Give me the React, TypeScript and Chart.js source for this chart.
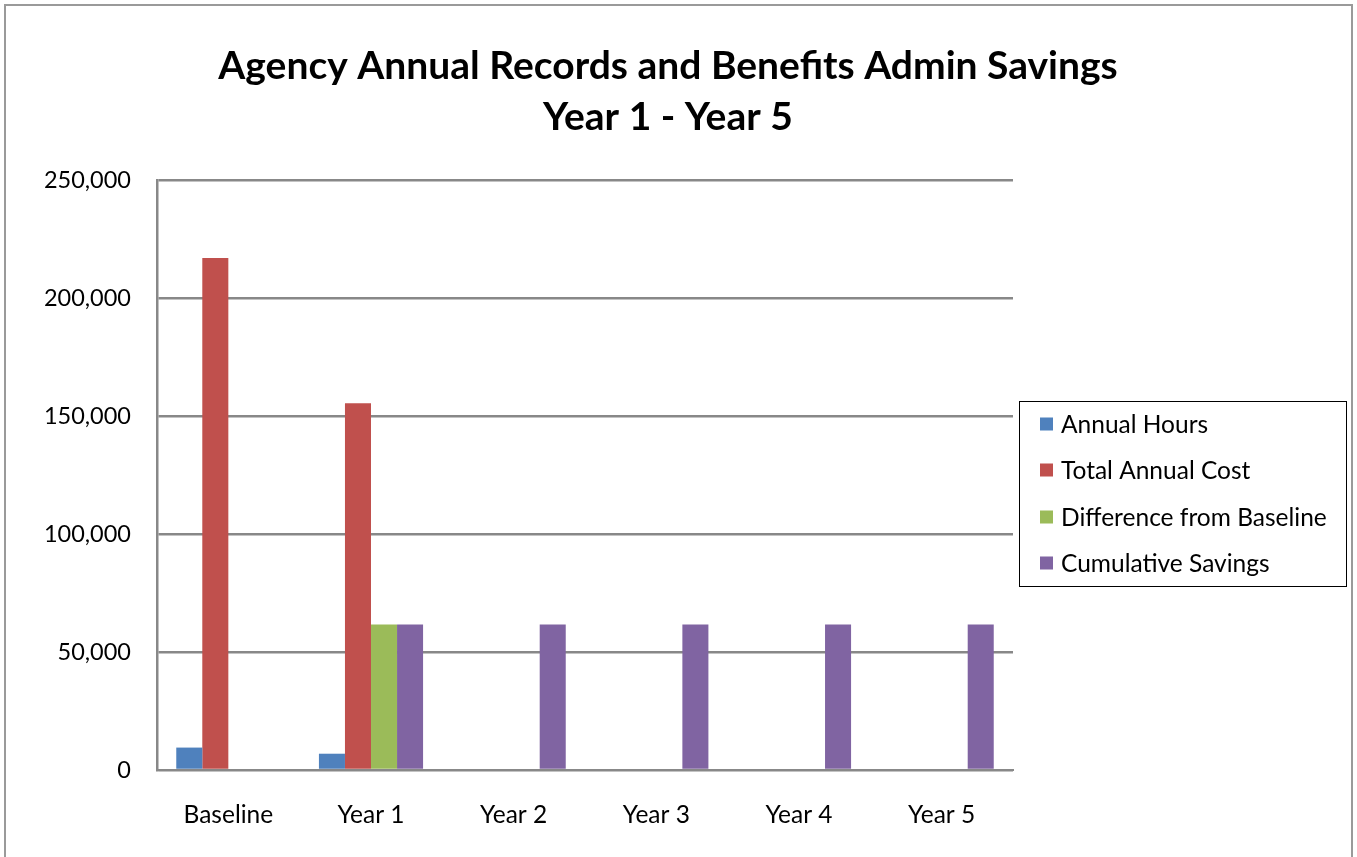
import React, { useEffect, useRef } from "react";
import { Chart, registerables } from "chart.js";

Chart.register(...registerables);

const categories = ["Baseline", "Year 1", "Year 2", "Year 3", "Year 4", "Year 5"];
const annualHours = [9500, 6900, 0, 0, 0, 0];
const totalAnnualCost = [217000, 155400, 0, 0, 0, 0];
const differenceFromBaseline = [0, 61600, 0, 0, 0, 0];
const cumulativeSavings = [0, 61600, 61600, 61600, 61600, 61600];
const seriesNames = ["Annual Hours", "Total Annual Cost", "Difference from Baseline", "Cumulative Savings"];
const seriesColors = ["#4F81BD", "#C0504D", "#9BBB59", "#8064A2"];
const titleLines = ["Agency Annual Records and Benefits Admin Savings", "Year 1 - Year 5"];

const W = 1357;
const H = 857;

const decorPlugin = {
  id: "decor",
  afterDraw(chart: any) {
    const ctx = chart.ctx as CanvasRenderingContext2D;
    ctx.save();
    // outer border
    ctx.strokeStyle = "#9a9a9a";
    ctx.lineWidth = 2;
    ctx.strokeRect(5, 5, 1347, 900);
    // title
    ctx.fillStyle = "#000";
    ctx.font = "bold 39px Lato";
    ctx.textAlign = "center";
    ctx.textBaseline = "alphabetic";
    ctx.fillText(titleLines[0], 668, 79);
    ctx.fillText(titleLines[1], 668, 130);
    // legend
    const lx = 1019.5, ly = 401.5, lw = 327, lh = 185;
    ctx.strokeStyle = "#000";
    ctx.lineWidth = 1;
    ctx.strokeRect(lx, ly, lw, lh);
    ctx.font = "24.5px Lato";
    ctx.textAlign = "left";
    ctx.textBaseline = "middle";
    const rows = [424, 470, 517, 563];
    chart.data.datasets.forEach((ds: any, i: number) => {
      const cy = rows[i];
      ctx.fillStyle = ds.backgroundColor;
      ctx.fillRect(1040, cy - 6.5, 13, 13);
      ctx.fillStyle = "#000";
      ctx.fillText(ds.label, 1061, cy + 1);
    });
    ctx.restore();
  },
};

export default function App() {
  const ref = useRef<HTMLCanvasElement | null>(null);
  useEffect(() => {
    document.body.style.margin = "0";
    if (!ref.current) return;
    const seriesData = [annualHours, totalAnnualCost, differenceFromBaseline, cumulativeSavings];
    const chart = new Chart(ref.current, {
      type: "bar",
      data: {
        labels: categories,
        datasets: seriesData.map((d, i) => ({
          label: seriesNames[i],
          data: d,
          backgroundColor: seriesColors[i],
          borderWidth: 0,
          barPercentage: 1,
          categoryPercentage: 0.73,
        })),
      },
      options: {
        responsive: false,
        animation: false,
        layout: { padding: { left: 0, right: W - 1013, top: 180, bottom: 0 } },
        plugins: {
          legend: { display: false },
          title: { display: false },
          tooltip: { enabled: false },
        },
        scales: {
          x: {
            grid: { display: false, drawTicks: false },
            border: { display: true, color: "#888888", width: 2 },
            ticks: { color: "#000", font: { family: "Lato", size: 24.5 }, padding: 30, maxRotation: 0 },
            afterFit: (s: any) => { s.height = H - 770; },
          },
          y: {
            min: 0,
            max: 250000,
            ticks: {
              stepSize: 50000,
              color: "#000",
              padding: 26,
              font: { family: "Lato", size: 23.5 },
              callback: (v: any) => Number(v).toLocaleString("en-US"),
            },
            grid: { color: "#888888", lineWidth: 2.5, drawTicks: false },
            border: { display: true, color: "#888888", width: 2.5 },
            afterFit: (s: any) => { s.width = 157; },
          },
        },
      },
      plugins: [decorPlugin],
    });
    return () => chart.destroy();
  }, []);
  return (
    <div style={{ position: "absolute", left: 0, top: 0, width: W, height: H, background: "#fff" }}>
      <canvas ref={ref} width={W} height={H} style={{ width: W, height: H, display: "block" }} />
    </div>
  );
}
